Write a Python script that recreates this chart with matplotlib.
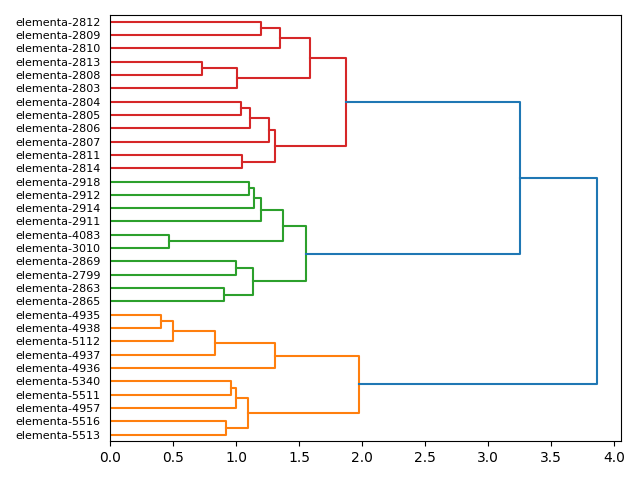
import matplotlib
matplotlib.use("Agg")
import matplotlib.pyplot as plt

# leaf labels, top to bottom
leaves = [
    "elementa-2812", "elementa-2809", "elementa-2810", "elementa-2813",
    "elementa-2808", "elementa-2803", "elementa-2804", "elementa-2805",
    "elementa-2806", "elementa-2807", "elementa-2811", "elementa-2814",
    "elementa-2918", "elementa-2912", "elementa-2914", "elementa-2911",
    "elementa-4083", "elementa-3010", "elementa-2869", "elementa-2799",
    "elementa-2863", "elementa-2865", "elementa-4935", "elementa-4938",
    "elementa-5112", "elementa-4937", "elementa-4936", "elementa-5340",
    "elementa-5511", "elementa-4957", "elementa-5516", "elementa-5513",
]

# merges (linkage style): left child, right child, height; new node ids start at len(leaves)
merge_left = [0, 32, 3, 34, 33, 6, 37, 38, 10, 39, 36,
              12, 43, 44, 16, 45, 18, 20, 48, 47,
              22, 52, 53, 54, 27, 56, 30, 57, 55,
              42, 61]
merge_right = [1, 2, 4, 5, 35, 7, 8, 9, 11, 40, 41,
               13, 14, 15, 17, 46, 19, 21, 49, 50,
               23, 24, 25, 26, 28, 29, 31, 58, 59,
               51, 60]
merge_height = [1.20, 1.35, 0.73, 1.01, 1.59, 1.035, 1.11, 1.26, 1.045, 1.305, 1.873,
                1.10, 1.145, 1.195, 0.465, 1.372, 0.998, 0.903, 1.136, 1.552,
                0.404, 0.497, 0.831, 1.308, 0.958, 0.998, 0.921, 1.091, 1.976,
                3.256, 3.866]

# colour of each flat cluster (by its root node), links above them are blue
cluster_roots = [42, 51, 60]
cluster_colors = ["#d62728", "#2ca02c", "#ff7f0e"]
above_color = "#1f77b4"

n = len(leaves)
pos = {i: 10 * (n - 1 - i) + 5 for i in range(n)}
hgt = {i: 0.0 for i in range(n)}
color = {}
for k in range(len(merge_height)):
    node = n + k
    a, b = merge_left[k], merge_right[k]
    pos[node] = (pos[a] + pos[b]) / 2
    hgt[node] = merge_height[k]

# propagate cluster colours down to children
def paint(node, c):
    color[node] = c
    if node >= n:
        k = node - n
        paint(merge_left[k], c)
        paint(merge_right[k], c)

for r, c in zip(cluster_roots, cluster_colors):
    paint(r, c)

fig, ax = plt.subplots(figsize=(6.4, 4.8))
for k in range(len(merge_height)):
    node = n + k
    a, b = merge_left[k], merge_right[k]
    c = color.get(node, above_color)
    h = hgt[node]
    ax.plot([hgt[a], h, h, hgt[b]], [pos[a], pos[a], pos[b], pos[b]], color=c, lw=1.5)

ax.set_ylim(0, 10 * n)
ax.set_xlim(0, max(merge_height) * 1.05)
ax.set_yticks([pos[i] for i in range(n)])
ax.set_yticklabels(leaves, fontsize=8)
# ticks keep their length (spacing) but are not drawn
ax.tick_params(axis="y", width=0)

plt.tight_layout()
plt.savefig("out.png", dpi=100)
